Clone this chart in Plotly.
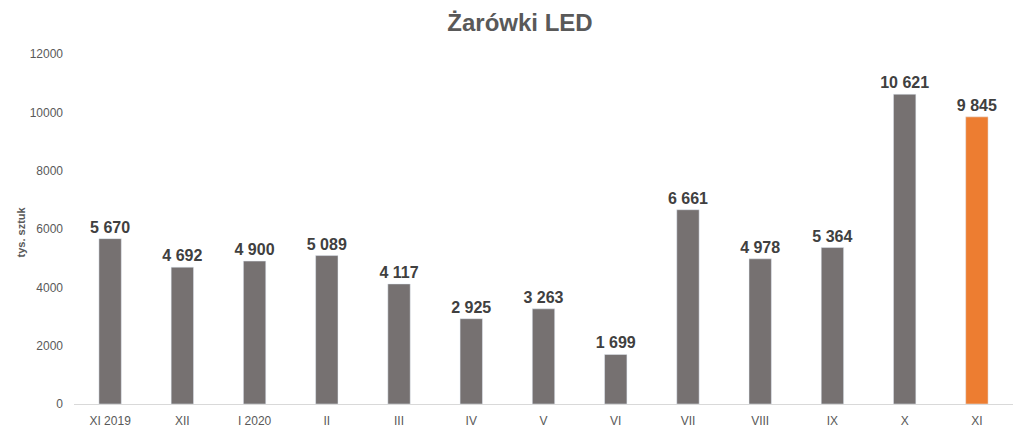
import plotly.graph_objects as go

# miesiące i wartości (tys. sztuk)
months = ["XI 2019", "XII", "I 2020", "II", "III", "IV", "V", "VI",
          "VII", "VIII", "IX", "X", "XI"]
values = [5670, 4692, 4900, 5089, 4117, 2925, 3263, 1699,
          6661, 4978, 5364, 10621, 9845]
y_ticks = [0, 2000, 4000, 6000, 8000, 10000, 12000]

colors = ["#767171"] * (len(months) - 1) + ["#ED7D31"]

font = "Liberation Sans Narrow, Arial Narrow, Liberation Sans, Arial, sans-serif"

fig = go.Figure(go.Bar(
    x=months, y=values,
    marker_color=colors,
    texttemplate="%{y:,.0f}",
    textposition="outside",
    constraintext="none",
    cliponaxis=False,
    textfont=dict(family=font, size=16, color="#404040", weight="bold"),
))

# strona ma 8px marginesu body, więc marginesy są przesunięte
fig.update_layout(
    width=1024, height=435,
    margin=dict(l=66, r=19, t=46, b=39),
    plot_bgcolor="white", paper_bgcolor="white",
    separators=", ",
    bargap=0.69,
    showlegend=False,
    title=dict(text="<b>Żarówki LED</b>", x=0.5, xanchor="center",
               y=1 - 15 / 435, yanchor="middle",
               font=dict(family=font, size=24, color="#595959")),
    xaxis=dict(showline=True, linecolor="#D9D9D9", linewidth=1,
               ticks="", ticklabelstandoff=6, automargin=False,
               tickfont=dict(family=font, size=12, color="#595959")),
    yaxis=dict(range=[0, 12000], tickvals=y_ticks, tickformat="d",
               showgrid=False, zeroline=False, showline=False,
               ticklabelstandoff=10, automargin=False,
               tickfont=dict(family=font, size=12, color="#595959")),
    annotations=[dict(text="<b>tys. sztuk</b>", textangle=-90,
                      xref="paper", yref="paper", x=0, y=0.49,
                      xanchor="center", yanchor="middle",
                      xshift=-54, showarrow=False,
                      font=dict(family=font, size=11, color="#595959"))],
)

fig.write_html("out.html")
